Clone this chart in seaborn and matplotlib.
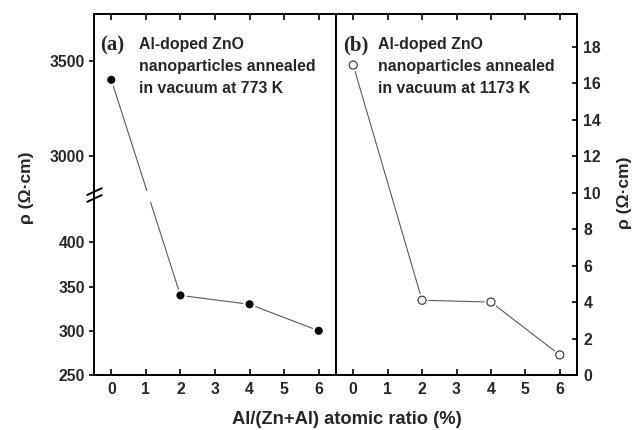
import numpy as np
import pandas as pd
import matplotlib
matplotlib.use("Agg")
import matplotlib.pyplot as plt
import matplotlib.patheffects as pe
import seaborn as sns

# Resistivity vs Al content for two annealing temperatures
al_ratio = [0, 2, 4, 6]
rho_773 = [3400, 340, 330, 300]
rho_1173 = [17.0, 4.1, 4.0, 1.1]

x_ticks = [0, 1, 2, 3, 4, 5, 6]
left_yticks = [250, 300, 350, 400, 3000, 3500]
right_yticks = [0, 2, 4, 6, 8, 10, 12, 14, 16, 18]

sns.set_style("ticks")
plt.rcParams["font.family"] = ["Liberation Sans", "DejaVu Sans"]

W, H = 633, 430
fig = plt.figure(figsize=(W / 100, H / 100), dpi=100)


def px_box(x0, y0, x1, y1):
    return [x0 / W, 1 - y1 / H, (x1 - x0) / W, (y1 - y0) / H]


ax_a = fig.add_axes(px_box(94, 14, 336, 375))
ax_b = fig.add_axes(px_box(336, 14, 577, 375))

# Broken y scale: 250-450 linear, 2780-3750 compressed on top
LOW_TOP, HIGH_BOTTOM, SQUEEZE = 450.0, 2780.0, 0.2144


def fwd(y):
    y = np.asarray(y, float)
    return np.where(
        y <= LOW_TOP, y,
        np.where(y >= HIGH_BOTTOM,
                 LOW_TOP + 1 + (y - HIGH_BOTTOM) * SQUEEZE,
                 LOW_TOP + (y - LOW_TOP) / (HIGH_BOTTOM - LOW_TOP)))


def inv(t):
    t = np.asarray(t, float)
    return np.where(
        t <= LOW_TOP, t,
        np.where(t >= LOW_TOP + 1,
                 HIGH_BOTTOM + (t - LOW_TOP - 1) / SQUEEZE,
                 LOW_TOP + (t - LOW_TOP) * (HIGH_BOTTOM - LOW_TOP)))


ax_a.set_yscale("function", functions=(fwd, inv))

df_a = pd.DataFrame({"x": al_ratio, "rho": rho_773})
df_b = pd.DataFrame({"x": al_ratio, "rho": rho_1173})

halo = [pe.withStroke(linewidth=3.2, foreground="white")]

sns.lineplot(data=df_a, x="x", y="rho", ax=ax_a, color="#5a5a5a", lw=0.8, zorder=2)
sns.scatterplot(data=df_a, x="x", y="rho", ax=ax_a, s=34, color="black",
                edgecolor="black", linewidth=0, zorder=4, path_effects=halo)

sns.lineplot(data=df_b, x="x", y="rho", ax=ax_b, color="#5a5a5a", lw=0.8, zorder=2)
sns.scatterplot(data=df_b, x="x", y="rho", ax=ax_b, s=34, facecolor="white",
                edgecolor="#303030", linewidth=0.8, zorder=4, path_effects=halo)

TICK_FS = 11.3

ax_a.set_ylim(250, 3747)
ax_a.set_yticks(left_yticks)
ax_a.tick_params(axis="y", direction="out", left=True, right=False, color="black",
                 length=3.6, width=1.2, labelsize=TICK_FS, pad=3)

ax_b.set_ylim(0, 19.8)
ax_b.set_yticks(right_yticks)
ax_b.yaxis.tick_right()
ax_b.tick_params(axis="y", direction="in", left=False, right=True, color="black",
                 labelleft=False, labelright=True,
                 length=3.6, width=1.2, labelsize=TICK_FS, pad=4.5)

# gap in the connecting line at the axis break
ax_a.axhspan(446, 2815, xmin=0.004, xmax=0.996, color="white", zorder=3, lw=0)

# break marks on the left spine
for yc in (0.508, 0.489):
    ax_a.plot([-0.028, 0.032], [yc - 0.0093, yc + 0.0093], transform=ax_a.transAxes,
              color="black", lw=1.4, clip_on=False, zorder=6)

for ax in (ax_a, ax_b):
    ax.set_axisbelow(False)
    ax.set_xlim(-0.5, 6.5)
    ax.set_xticks(x_ticks)
    ax.set_xlabel("")
    ax.set_ylabel("")
    for sp in ax.spines.values():
        sp.set_visible(True)
        sp.set_linewidth(1.4)
        sp.set_color("black")
        sp.set_zorder(5)
    ax.xaxis.set_ticks_position("both")
    ax.tick_params(axis="x", which="major", direction="in", top=True, bottom=True,
                   labeltop=False, labelbottom=True, color="black",
                   length=4.5, width=1.2, labelsize=TICK_FS, pad=5)
    for lab in ax.get_xticklabels() + ax.get_yticklabels():
        lab.set_fontweight("bold")

fig.canvas.draw()


def ftext(x, y, s, **kw):
    fig.text(x / W, 1 - y / H, s, **kw)


serif = ["Liberation Serif", "DejaVu Serif"]
ftext(100, 50, "(a)", fontsize=15, fontweight="bold", family=serif, va="baseline")
ftext(343, 50, "(b)", fontsize=15, fontweight="bold", family=serif, va="baseline")

lines_a = ["Al-doped ZnO", "nanoparticles annealed", "in vacuum at 773 K"]
lines_b = ["Al-doped ZnO", "nanoparticles annealed", "in vacuum at 1173 K"]
for i, (la, lb) in enumerate(zip(lines_a, lines_b)):
    yb = 49 + 22 * i
    ftext(139, yb, la, fontsize=11.4, fontweight="bold", va="baseline")
    ftext(378, yb, lb, fontsize=11.4, fontweight="bold", va="baseline")

ftext(347, 419, "Al/(Zn+Al) atomic ratio (%)", fontsize=13.2, fontweight="bold",
      ha="center", va="center")
ftext(27, 188, "ρ (Ω·cm)", fontsize=12.6, fontweight="bold", rotation=90,
      ha="center", va="center")
ftext(624, 193, "ρ (Ω·cm)", fontsize=12.6, fontweight="bold", rotation=90,
      ha="center", va="center")

fig.savefig("out.png", dpi=100)
